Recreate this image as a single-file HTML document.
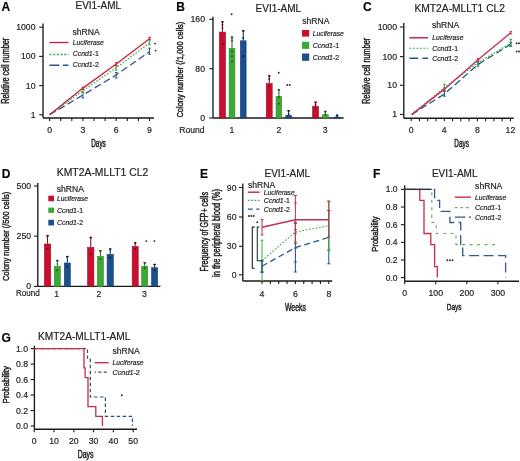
<!DOCTYPE html>
<html><head><meta charset="utf-8"><style>
html,body{margin:0;padding:0;background:#fff;}
body{width:520px;height:461px;overflow:hidden;}
svg{display:block;will-change:transform;filter:blur(0.3px);}
.at{stroke:#222;stroke-width:0.35px;}
text{stroke:#222;stroke-width:0.18px;}
text.at{stroke-width:0.45px;}
svg{font-family:"Liberation Sans",sans-serif;}
</style></head><body>
<svg width="520" height="461" viewBox="0 0 520 461" fill="#222">
<rect width="520" height="461" fill="#fff"/>
<text x="1.4" y="10.8" font-size="12" font-weight="bold" fill="#000">A</text>
<text x="75.5" y="9.4" font-size="10">EVI1-AML</text>
<line x1="43" y1="23.5" x2="43" y2="118" stroke="#1a1a1a" stroke-width="1.35" stroke-linecap="butt"/>
<line x1="39.2" y1="27.2" x2="43" y2="27.2" stroke="#1a1a1a" stroke-width="1.1" stroke-linecap="butt"/>
<text x="35.5" y="30.25" font-size="8.7" text-anchor="end">1000</text>
<line x1="39.2" y1="56.4" x2="43" y2="56.4" stroke="#1a1a1a" stroke-width="1.1" stroke-linecap="butt"/>
<text x="35.5" y="59.449999999999996" font-size="8.7" text-anchor="end">100</text>
<line x1="39.2" y1="85.6" x2="43" y2="85.6" stroke="#1a1a1a" stroke-width="1.1" stroke-linecap="butt"/>
<text x="35.5" y="88.64999999999999" font-size="8.7" text-anchor="end">10</text>
<line x1="39.2" y1="114.8" x2="43" y2="114.8" stroke="#1a1a1a" stroke-width="1.1" stroke-linecap="butt"/>
<text x="35.5" y="117.85" font-size="8.7" text-anchor="end">1</text>
<line x1="43" y1="118" x2="154" y2="118" stroke="#1a1a1a" stroke-width="1.4" stroke-linecap="butt"/>
<line x1="49.6" y1="118" x2="49.6" y2="121.0" stroke="#1a1a1a" stroke-width="1.1" stroke-linecap="butt"/>
<line x1="60.7" y1="118" x2="60.7" y2="121.0" stroke="#1a1a1a" stroke-width="1.1" stroke-linecap="butt"/>
<line x1="71.8" y1="118" x2="71.8" y2="121.0" stroke="#1a1a1a" stroke-width="1.1" stroke-linecap="butt"/>
<line x1="82.9" y1="118" x2="82.9" y2="121.0" stroke="#1a1a1a" stroke-width="1.1" stroke-linecap="butt"/>
<line x1="94.0" y1="118" x2="94.0" y2="121.0" stroke="#1a1a1a" stroke-width="1.1" stroke-linecap="butt"/>
<line x1="105.1" y1="118" x2="105.1" y2="121.0" stroke="#1a1a1a" stroke-width="1.1" stroke-linecap="butt"/>
<line x1="116.19999999999999" y1="118" x2="116.19999999999999" y2="121.0" stroke="#1a1a1a" stroke-width="1.1" stroke-linecap="butt"/>
<line x1="127.30000000000001" y1="118" x2="127.30000000000001" y2="121.0" stroke="#1a1a1a" stroke-width="1.1" stroke-linecap="butt"/>
<line x1="138.4" y1="118" x2="138.4" y2="121.0" stroke="#1a1a1a" stroke-width="1.1" stroke-linecap="butt"/>
<line x1="149.5" y1="118" x2="149.5" y2="121.0" stroke="#1a1a1a" stroke-width="1.1" stroke-linecap="butt"/>
<text x="49.6" y="133.2" font-size="8.7" text-anchor="middle">0</text>
<text x="82.9" y="133.2" font-size="8.7" text-anchor="middle">3</text>
<text x="116.19999999999999" y="133.2" font-size="8.7" text-anchor="middle">6</text>
<text x="149.5" y="133.2" font-size="8.7" text-anchor="middle">9</text>
<text x="91.2" y="147.3" font-size="10" class="at" textLength="14.6" lengthAdjust="spacingAndGlyphs">Days</text>
<text transform="translate(9.1,70.75) rotate(-90)" font-size="10" class="at" text-anchor="middle" textLength="65.9" lengthAdjust="spacingAndGlyphs">Relative cell number</text>
<polyline points="49.60,114.80 82.90,95.00 116.20,75.00 149.50,51.70" fill="none" stroke="#2f5588" stroke-width="1.3" stroke-dasharray="7,3.5" stroke-linejoin="miter"/>
<polyline points="49.60,114.80 82.90,90.70 116.20,67.80 149.50,43.00" fill="none" stroke="#4fa84a" stroke-width="1.3" stroke-dasharray="1.6,1.6" stroke-linejoin="miter"/>
<polyline points="49.60,114.80 82.90,88.10 116.20,64.10 149.50,38.70" fill="none" stroke="#c81e40" stroke-width="1.3" stroke-linejoin="miter"/>
<line x1="82.9" y1="92.4" x2="82.9" y2="98" stroke="#2f5588" stroke-width="1.0" stroke-linecap="butt"/>
<line x1="81.60000000000001" y1="92.4" x2="84.2" y2="92.4" stroke="#2f5588" stroke-width="1.0" stroke-linecap="butt"/>
<line x1="81.60000000000001" y1="98" x2="84.2" y2="98" stroke="#2f5588" stroke-width="1.0" stroke-linecap="butt"/>
<line x1="116.19999999999999" y1="72.5" x2="116.19999999999999" y2="78" stroke="#2f5588" stroke-width="1.0" stroke-linecap="butt"/>
<line x1="114.89999999999999" y1="72.5" x2="117.49999999999999" y2="72.5" stroke="#2f5588" stroke-width="1.0" stroke-linecap="butt"/>
<line x1="114.89999999999999" y1="78" x2="117.49999999999999" y2="78" stroke="#2f5588" stroke-width="1.0" stroke-linecap="butt"/>
<line x1="149.5" y1="48.2" x2="149.5" y2="54.3" stroke="#2f5588" stroke-width="1.0" stroke-linecap="butt"/>
<line x1="148.2" y1="48.2" x2="150.8" y2="48.2" stroke="#2f5588" stroke-width="1.0" stroke-linecap="butt"/>
<line x1="148.2" y1="54.3" x2="150.8" y2="54.3" stroke="#2f5588" stroke-width="1.0" stroke-linecap="butt"/>
<line x1="82.9" y1="88.4" x2="82.9" y2="92.7" stroke="#4fa84a" stroke-width="1.0" stroke-linecap="butt"/>
<line x1="81.60000000000001" y1="88.4" x2="84.2" y2="88.4" stroke="#4fa84a" stroke-width="1.0" stroke-linecap="butt"/>
<line x1="81.60000000000001" y1="92.7" x2="84.2" y2="92.7" stroke="#4fa84a" stroke-width="1.0" stroke-linecap="butt"/>
<line x1="116.19999999999999" y1="65.9" x2="116.19999999999999" y2="70.2" stroke="#4fa84a" stroke-width="1.0" stroke-linecap="butt"/>
<line x1="114.89999999999999" y1="65.9" x2="117.49999999999999" y2="65.9" stroke="#4fa84a" stroke-width="1.0" stroke-linecap="butt"/>
<line x1="114.89999999999999" y1="70.2" x2="117.49999999999999" y2="70.2" stroke="#4fa84a" stroke-width="1.0" stroke-linecap="butt"/>
<line x1="149.5" y1="40.7" x2="149.5" y2="44.7" stroke="#4fa84a" stroke-width="1.0" stroke-linecap="butt"/>
<line x1="148.2" y1="40.7" x2="150.8" y2="40.7" stroke="#4fa84a" stroke-width="1.0" stroke-linecap="butt"/>
<line x1="148.2" y1="44.7" x2="150.8" y2="44.7" stroke="#4fa84a" stroke-width="1.0" stroke-linecap="butt"/>
<line x1="82.9" y1="87.2" x2="82.9" y2="89.5" stroke="#c81e40" stroke-width="1.0" stroke-linecap="butt"/>
<line x1="81.60000000000001" y1="87.2" x2="84.2" y2="87.2" stroke="#c81e40" stroke-width="1.0" stroke-linecap="butt"/>
<line x1="81.60000000000001" y1="89.5" x2="84.2" y2="89.5" stroke="#c81e40" stroke-width="1.0" stroke-linecap="butt"/>
<line x1="116.19999999999999" y1="62.6" x2="116.19999999999999" y2="65.5" stroke="#c81e40" stroke-width="1.0" stroke-linecap="butt"/>
<line x1="114.89999999999999" y1="62.6" x2="117.49999999999999" y2="62.6" stroke="#c81e40" stroke-width="1.0" stroke-linecap="butt"/>
<line x1="114.89999999999999" y1="65.5" x2="117.49999999999999" y2="65.5" stroke="#c81e40" stroke-width="1.0" stroke-linecap="butt"/>
<line x1="149.5" y1="37.3" x2="149.5" y2="39.5" stroke="#c81e40" stroke-width="1.0" stroke-linecap="butt"/>
<line x1="148.2" y1="37.3" x2="150.8" y2="37.3" stroke="#c81e40" stroke-width="1.0" stroke-linecap="butt"/>
<line x1="148.2" y1="39.5" x2="150.8" y2="39.5" stroke="#c81e40" stroke-width="1.0" stroke-linecap="butt"/>
<circle cx="155.10" cy="43.6" r="0.95" fill="#2a2a2a"/>
<circle cx="155.60" cy="50.6" r="0.95" fill="#2a2a2a"/>
<text x="72.5" y="35" font-size="8.6">shRNA</text>
<line x1="49.4" y1="42.5" x2="68.5" y2="42.5" stroke="#c81e40" stroke-width="1.3" stroke-linecap="butt"/>
<line x1="49.4" y1="54.4" x2="68.5" y2="54.4" stroke="#4fa84a" stroke-width="1.5" stroke-dasharray="2.2,1.5" stroke-linecap="butt"/>
<line x1="49.4" y1="65.25" x2="68.5" y2="65.25" stroke="#2f5588" stroke-width="1.3" stroke-dasharray="10,3.5" stroke-linecap="butt"/>
<text x="72.75" y="44.75" font-size="6.8" font-style="italic" textLength="31" lengthAdjust="spacingAndGlyphs">Luciferase</text>
<text x="72.75" y="56.25" font-size="6.9" textLength="26" lengthAdjust="spacingAndGlyphs"><tspan font-style="italic">Ccnd1</tspan>-1</text>
<text x="72.75" y="67.25" font-size="6.9" textLength="26" lengthAdjust="spacingAndGlyphs"><tspan font-style="italic">Ccnd1</tspan>-2</text>
<text x="176.2" y="10.8" font-size="12" font-weight="bold" fill="#000">B</text>
<text x="255.6" y="11.9" font-size="10">EVI1-AML</text>
<line x1="213" y1="16.7" x2="213" y2="118" stroke="#1a1a1a" stroke-width="1.35" stroke-linecap="butt"/>
<line x1="209.2" y1="19.3" x2="213" y2="19.3" stroke="#1a1a1a" stroke-width="1.1" stroke-linecap="butt"/>
<text x="205" y="22.35" font-size="8.7" text-anchor="end">160</text>
<line x1="209.2" y1="68.65" x2="213" y2="68.65" stroke="#1a1a1a" stroke-width="1.1" stroke-linecap="butt"/>
<text x="205" y="71.7" font-size="8.7" text-anchor="end">80</text>
<line x1="209.2" y1="118" x2="213" y2="118" stroke="#1a1a1a" stroke-width="1.1" stroke-linecap="butt"/>
<text x="205" y="121.05" font-size="8.7" text-anchor="end">0</text>
<line x1="213" y1="118" x2="343.6" y2="118" stroke="#1a1a1a" stroke-width="1.3" stroke-linecap="butt"/>
<line x1="222.45" y1="21.75" x2="222.45" y2="31.75" stroke="#5a0a14" stroke-width="1.0" stroke-linecap="butt"/>
<line x1="221.14999999999998" y1="21.75" x2="223.75" y2="21.75" stroke="#5a0a14" stroke-width="1.1" stroke-linecap="butt"/>
<rect x="219.4" y="32.05" width="6.10" height="85.95" fill="#c8102e" stroke="#a00a26" stroke-width="0.6"/>
<circle cx="222.45" cy="22" r="0.95" fill="#5a0a14"/>
<circle cx="222.45" cy="25" r="0.95" fill="#5a0a14"/>
<circle cx="222.45" cy="28" r="0.95" fill="#5a0a14"/>
<circle cx="222.45" cy="44" r="0.95" fill="#5a0a14"/>
<line x1="232.0" y1="37" x2="232.0" y2="48" stroke="#145a14" stroke-width="1.0" stroke-linecap="butt"/>
<line x1="230.7" y1="37" x2="233.3" y2="37" stroke="#145a14" stroke-width="1.1" stroke-linecap="butt"/>
<rect x="229.10000000000002" y="48.3" width="5.80" height="69.70" fill="#3aaa35" stroke="#2b8a2b" stroke-width="0.6"/>
<circle cx="232.00" cy="37.8" r="0.95" fill="#145a14"/>
<circle cx="232.00" cy="40.5" r="0.95" fill="#145a14"/>
<circle cx="232.00" cy="51.4" r="0.95" fill="#145a14"/>
<circle cx="232.00" cy="56.2" r="0.95" fill="#145a14"/>
<circle cx="232.00" cy="61.4" r="0.95" fill="#145a14"/>
<line x1="243.25" y1="30.75" x2="243.25" y2="40.5" stroke="#0a2040" stroke-width="1.0" stroke-linecap="butt"/>
<line x1="241.95" y1="30.75" x2="244.55" y2="30.75" stroke="#0a2040" stroke-width="1.1" stroke-linecap="butt"/>
<rect x="240.4" y="40.8" width="5.70" height="77.20" fill="#1b4f8e" stroke="#0e3a70" stroke-width="0.6"/>
<circle cx="243.25" cy="31" r="0.95" fill="#0a2040"/>
<circle cx="243.25" cy="38" r="0.95" fill="#0a2040"/>
<circle cx="243.25" cy="56.2" r="0.95" fill="#0a2040"/>
<line x1="269.25" y1="75.75" x2="269.25" y2="83.25" stroke="#5a0a14" stroke-width="1.0" stroke-linecap="butt"/>
<line x1="267.95" y1="75.75" x2="270.55" y2="75.75" stroke="#5a0a14" stroke-width="1.1" stroke-linecap="butt"/>
<rect x="266.3" y="83.55" width="5.90" height="34.45" fill="#c8102e" stroke="#a00a26" stroke-width="0.6"/>
<circle cx="269.25" cy="76" r="0.95" fill="#5a0a14"/>
<circle cx="269.25" cy="79" r="0.95" fill="#5a0a14"/>
<circle cx="269.25" cy="86.5" r="0.95" fill="#5a0a14"/>
<line x1="278.875" y1="89.5" x2="278.875" y2="96.25" stroke="#145a14" stroke-width="1.0" stroke-linecap="butt"/>
<line x1="277.575" y1="89.5" x2="280.175" y2="89.5" stroke="#145a14" stroke-width="1.1" stroke-linecap="butt"/>
<rect x="276.05" y="96.55" width="5.65" height="21.45" fill="#3aaa35" stroke="#2b8a2b" stroke-width="0.6"/>
<circle cx="278.88" cy="90" r="0.95" fill="#145a14"/>
<circle cx="278.88" cy="97" r="0.95" fill="#145a14"/>
<circle cx="278.88" cy="103.8" r="0.95" fill="#145a14"/>
<line x1="288.625" y1="110.75" x2="288.625" y2="115" stroke="#0a2040" stroke-width="1.0" stroke-linecap="butt"/>
<line x1="287.325" y1="110.75" x2="289.925" y2="110.75" stroke="#0a2040" stroke-width="1.1" stroke-linecap="butt"/>
<rect x="285.8" y="115.3" width="5.65" height="2.70" fill="#1b4f8e" stroke="#0e3a70" stroke-width="0.6"/>
<circle cx="288.62" cy="111" r="0.95" fill="#0a2040"/>
<circle cx="288.62" cy="114.5" r="0.95" fill="#0a2040"/>
<line x1="315.55" y1="102.1" x2="315.55" y2="106.1" stroke="#5a0a14" stroke-width="1.0" stroke-linecap="butt"/>
<line x1="314.25" y1="102.1" x2="316.85" y2="102.1" stroke="#5a0a14" stroke-width="1.1" stroke-linecap="butt"/>
<rect x="312.6" y="106.39999999999999" width="5.90" height="11.60" fill="#c8102e" stroke="#a00a26" stroke-width="0.6"/>
<circle cx="315.55" cy="102.5" r="0.95" fill="#5a0a14"/>
<circle cx="315.55" cy="105" r="0.95" fill="#5a0a14"/>
<circle cx="315.55" cy="108.5" r="0.95" fill="#5a0a14"/>
<line x1="325.35" y1="111.3" x2="325.35" y2="114.5" stroke="#145a14" stroke-width="1.0" stroke-linecap="butt"/>
<line x1="324.05" y1="111.3" x2="326.65000000000003" y2="111.3" stroke="#145a14" stroke-width="1.1" stroke-linecap="butt"/>
<rect x="322.40000000000003" y="114.8" width="5.90" height="3.20" fill="#3aaa35" stroke="#2b8a2b" stroke-width="0.6"/>
<circle cx="325.35" cy="111.8" r="0.95" fill="#145a14"/>
<circle cx="325.35" cy="114.5" r="0.95" fill="#145a14"/>
<line x1="337.15" y1="115" x2="337.15" y2="116.8" stroke="#0a2040" stroke-width="1.0" stroke-linecap="butt"/>
<line x1="335.84999999999997" y1="115" x2="338.45" y2="115" stroke="#0a2040" stroke-width="1.1" stroke-linecap="butt"/>
<rect x="334.3" y="117.1" width="5.70" height="0.90" fill="#1b4f8e" stroke="#0e3a70" stroke-width="0.6"/>
<circle cx="337.15" cy="116" r="0.95" fill="#0a2040"/>
<circle cx="231.60" cy="14.2" r="0.95" fill="#2a2a2a"/>
<circle cx="278.70" cy="72.8" r="0.95" fill="#2a2a2a"/>
<circle cx="287.25" cy="85" r="0.95" fill="#2a2a2a"/>
<circle cx="289.75" cy="85" r="0.95" fill="#2a2a2a"/>
<text x="204.6" y="132.9" font-size="8.6" text-anchor="end">Round</text>
<text x="231.8" y="132.9" font-size="8.7" text-anchor="middle">1</text>
<text x="279" y="132.9" font-size="8.7" text-anchor="middle">2</text>
<text x="325.2" y="132.9" font-size="8.7" text-anchor="middle">3</text>
<text transform="translate(183.2,69.65) rotate(-90)" font-size="9.6" class="at" text-anchor="middle" textLength="95.9" lengthAdjust="spacingAndGlyphs">Colony number (/1,000 cells)</text>
<text x="302.3" y="23.8" font-size="8.6">shRNA</text>
<rect x="302" y="30" width="7.20" height="6.60" fill="#c8102e"/>
<rect x="302" y="41.8" width="7.20" height="7.10" fill="#3aaa35"/>
<rect x="302" y="53.5" width="7.20" height="7.30" fill="#1b4f8e"/>
<text x="312.8" y="36.2" font-size="6.8" font-style="italic" textLength="31" lengthAdjust="spacingAndGlyphs">Luciferase</text>
<text x="312.8" y="48" font-size="6.9" textLength="26.4" lengthAdjust="spacingAndGlyphs"><tspan font-style="italic">Ccnd1</tspan>-1</text>
<text x="312.8" y="59.9" font-size="6.9" textLength="26.4" lengthAdjust="spacingAndGlyphs"><tspan font-style="italic">Ccnd1</tspan>-2</text>
<text x="363.1" y="10.8" font-size="12" font-weight="bold" fill="#000">C</text>
<text x="414.4" y="11.9" font-size="10" textLength="90.6" lengthAdjust="spacingAndGlyphs">KMT2A-MLLT1 CL2</text>
<line x1="403.8" y1="23" x2="403.8" y2="118.3" stroke="#1a1a1a" stroke-width="1.35" stroke-linecap="butt"/>
<line x1="400.0" y1="27" x2="403.8" y2="27" stroke="#1a1a1a" stroke-width="1.1" stroke-linecap="butt"/>
<text x="397" y="30.05" font-size="8.7" text-anchor="end">1000</text>
<line x1="400.0" y1="56.6" x2="403.8" y2="56.6" stroke="#1a1a1a" stroke-width="1.1" stroke-linecap="butt"/>
<text x="397" y="59.65" font-size="8.7" text-anchor="end">100</text>
<line x1="400.0" y1="85.3" x2="403.8" y2="85.3" stroke="#1a1a1a" stroke-width="1.1" stroke-linecap="butt"/>
<text x="397" y="88.35" font-size="8.7" text-anchor="end">10</text>
<line x1="400.0" y1="114.4" x2="403.8" y2="114.4" stroke="#1a1a1a" stroke-width="1.1" stroke-linecap="butt"/>
<text x="397" y="117.45" font-size="8.7" text-anchor="end">1</text>
<line x1="403.8" y1="118.3" x2="513.7" y2="118.3" stroke="#1a1a1a" stroke-width="1.4" stroke-linecap="butt"/>
<line x1="411.2" y1="118.3" x2="411.2" y2="121.3" stroke="#1a1a1a" stroke-width="1.1" stroke-linecap="butt"/>
<line x1="419.46999999999997" y1="118.3" x2="419.46999999999997" y2="121.3" stroke="#1a1a1a" stroke-width="1.1" stroke-linecap="butt"/>
<line x1="427.74" y1="118.3" x2="427.74" y2="121.3" stroke="#1a1a1a" stroke-width="1.1" stroke-linecap="butt"/>
<line x1="436.01" y1="118.3" x2="436.01" y2="121.3" stroke="#1a1a1a" stroke-width="1.1" stroke-linecap="butt"/>
<line x1="444.28" y1="118.3" x2="444.28" y2="121.3" stroke="#1a1a1a" stroke-width="1.1" stroke-linecap="butt"/>
<line x1="452.54999999999995" y1="118.3" x2="452.54999999999995" y2="121.3" stroke="#1a1a1a" stroke-width="1.1" stroke-linecap="butt"/>
<line x1="460.82" y1="118.3" x2="460.82" y2="121.3" stroke="#1a1a1a" stroke-width="1.1" stroke-linecap="butt"/>
<line x1="469.09" y1="118.3" x2="469.09" y2="121.3" stroke="#1a1a1a" stroke-width="1.1" stroke-linecap="butt"/>
<line x1="477.36" y1="118.3" x2="477.36" y2="121.3" stroke="#1a1a1a" stroke-width="1.1" stroke-linecap="butt"/>
<line x1="485.63" y1="118.3" x2="485.63" y2="121.3" stroke="#1a1a1a" stroke-width="1.1" stroke-linecap="butt"/>
<line x1="493.9" y1="118.3" x2="493.9" y2="121.3" stroke="#1a1a1a" stroke-width="1.1" stroke-linecap="butt"/>
<line x1="502.16999999999996" y1="118.3" x2="502.16999999999996" y2="121.3" stroke="#1a1a1a" stroke-width="1.1" stroke-linecap="butt"/>
<line x1="510.44" y1="118.3" x2="510.44" y2="121.3" stroke="#1a1a1a" stroke-width="1.1" stroke-linecap="butt"/>
<text x="411.2" y="132.6" font-size="8.7" text-anchor="middle">0</text>
<text x="444.28" y="132.6" font-size="8.7" text-anchor="middle">4</text>
<text x="477.36" y="132.6" font-size="8.7" text-anchor="middle">8</text>
<text x="510.44" y="132.6" font-size="8.7" text-anchor="middle">12</text>
<text x="454.3" y="146.8" font-size="10" class="at" textLength="14.7" lengthAdjust="spacingAndGlyphs">Days</text>
<text transform="translate(370.1,70.85) rotate(-90)" font-size="10" class="at" text-anchor="middle" textLength="66.1" lengthAdjust="spacingAndGlyphs">Relative cell number</text>
<polyline points="411.60,114.60 444.40,94.00 478.00,64.50 510.80,44.30" fill="none" stroke="#1f5a78" stroke-width="1.3" stroke-dasharray="7,3.5" stroke-linejoin="miter"/>
<polyline points="411.60,114.60 444.40,87.60 478.00,62.60 510.80,43.20" fill="none" stroke="#4fa84a" stroke-width="1.2" stroke-dasharray="1.8,1.4" stroke-linejoin="miter"/>
<polyline points="411.60,114.60 444.40,89.20 478.00,59.70 510.80,32.70" fill="none" stroke="#c4325a" stroke-width="1.5" stroke-linejoin="miter"/>
<line x1="444.4" y1="91.4" x2="444.4" y2="96.2" stroke="#1f5a78" stroke-width="1.0" stroke-linecap="butt"/>
<line x1="443.09999999999997" y1="91.4" x2="445.7" y2="91.4" stroke="#1f5a78" stroke-width="1.0" stroke-linecap="butt"/>
<line x1="443.09999999999997" y1="96.2" x2="445.7" y2="96.2" stroke="#1f5a78" stroke-width="1.0" stroke-linecap="butt"/>
<line x1="478" y1="62.8" x2="478" y2="66.2" stroke="#1f5a78" stroke-width="1.0" stroke-linecap="butt"/>
<line x1="476.7" y1="62.8" x2="479.3" y2="62.8" stroke="#1f5a78" stroke-width="1.0" stroke-linecap="butt"/>
<line x1="476.7" y1="66.2" x2="479.3" y2="66.2" stroke="#1f5a78" stroke-width="1.0" stroke-linecap="butt"/>
<line x1="510.8" y1="42.5" x2="510.8" y2="46.2" stroke="#1f5a78" stroke-width="1.0" stroke-linecap="butt"/>
<line x1="509.5" y1="42.5" x2="512.1" y2="42.5" stroke="#1f5a78" stroke-width="1.0" stroke-linecap="butt"/>
<line x1="509.5" y1="46.2" x2="512.1" y2="46.2" stroke="#1f5a78" stroke-width="1.0" stroke-linecap="butt"/>
<line x1="444.4" y1="84.3" x2="444.4" y2="90.9" stroke="#2a9a3a" stroke-width="1.0" stroke-linecap="butt"/>
<line x1="443.09999999999997" y1="84.3" x2="445.7" y2="84.3" stroke="#2a9a3a" stroke-width="1.0" stroke-linecap="butt"/>
<line x1="443.09999999999997" y1="90.9" x2="445.7" y2="90.9" stroke="#2a9a3a" stroke-width="1.0" stroke-linecap="butt"/>
<line x1="478" y1="61" x2="478" y2="64.5" stroke="#2a9a3a" stroke-width="1.0" stroke-linecap="butt"/>
<line x1="476.7" y1="61" x2="479.3" y2="61" stroke="#2a9a3a" stroke-width="1.0" stroke-linecap="butt"/>
<line x1="476.7" y1="64.5" x2="479.3" y2="64.5" stroke="#2a9a3a" stroke-width="1.0" stroke-linecap="butt"/>
<line x1="510.8" y1="39.2" x2="510.8" y2="46.5" stroke="#2a9a3a" stroke-width="1.0" stroke-linecap="butt"/>
<line x1="509.5" y1="39.2" x2="512.1" y2="39.2" stroke="#2a9a3a" stroke-width="1.0" stroke-linecap="butt"/>
<line x1="509.5" y1="46.5" x2="512.1" y2="46.5" stroke="#2a9a3a" stroke-width="1.0" stroke-linecap="butt"/>
<line x1="444.4" y1="88.2" x2="444.4" y2="90.2" stroke="#c4325a" stroke-width="1.0" stroke-linecap="butt"/>
<line x1="443.09999999999997" y1="88.2" x2="445.7" y2="88.2" stroke="#c4325a" stroke-width="1.0" stroke-linecap="butt"/>
<line x1="443.09999999999997" y1="90.2" x2="445.7" y2="90.2" stroke="#c4325a" stroke-width="1.0" stroke-linecap="butt"/>
<line x1="478" y1="58.6" x2="478" y2="60.8" stroke="#c4325a" stroke-width="1.0" stroke-linecap="butt"/>
<line x1="476.7" y1="58.6" x2="479.3" y2="58.6" stroke="#c4325a" stroke-width="1.0" stroke-linecap="butt"/>
<line x1="476.7" y1="60.8" x2="479.3" y2="60.8" stroke="#c4325a" stroke-width="1.0" stroke-linecap="butt"/>
<line x1="510.8" y1="31.6" x2="510.8" y2="33.8" stroke="#c4325a" stroke-width="1.0" stroke-linecap="butt"/>
<line x1="509.5" y1="31.6" x2="512.1" y2="31.6" stroke="#c4325a" stroke-width="1.0" stroke-linecap="butt"/>
<line x1="509.5" y1="33.8" x2="512.1" y2="33.8" stroke="#c4325a" stroke-width="1.0" stroke-linecap="butt"/>
<circle cx="516.60" cy="43.3" r="0.95" fill="#2a2a2a"/>
<circle cx="519.00" cy="43.3" r="0.95" fill="#2a2a2a"/>
<circle cx="516.60" cy="51.5" r="0.95" fill="#2a2a2a"/>
<circle cx="519.00" cy="51.5" r="0.95" fill="#2a2a2a"/>
<text x="431.9" y="28.25" font-size="8.6">shRNA</text>
<line x1="409.4" y1="37.75" x2="428.1" y2="37.75" stroke="#c4325a" stroke-width="1.6" stroke-linecap="butt"/>
<line x1="409.4" y1="48.25" x2="428.1" y2="48.25" stroke="#4fa84a" stroke-width="1.1" stroke-dasharray="2,1.5" stroke-linecap="butt"/>
<line x1="409.4" y1="58.25" x2="428.1" y2="58.25" stroke="#1f5a78" stroke-width="1.3" stroke-dasharray="8.7,4.4" stroke-linecap="butt"/>
<text x="432.25" y="40.25" font-size="6.8" font-style="italic" textLength="31.2" lengthAdjust="spacingAndGlyphs">Luciferase</text>
<text x="432.25" y="50.75" font-size="6.9" textLength="25.9" lengthAdjust="spacingAndGlyphs"><tspan font-style="italic">Ccnd1</tspan>-1</text>
<text x="432.25" y="61.1" font-size="6.9" textLength="25.9" lengthAdjust="spacingAndGlyphs"><tspan font-style="italic">Ccnd1</tspan>-2</text>
<text x="1.8" y="178.4" font-size="12" font-weight="bold" fill="#000">D</text>
<text x="56.8" y="176.4" font-size="10" textLength="91.5" lengthAdjust="spacingAndGlyphs">KMT2A-MLLT1 CL2</text>
<line x1="37.8" y1="183.1" x2="37.8" y2="286.4" stroke="#1a1a1a" stroke-width="1.35" stroke-linecap="butt"/>
<line x1="34.0" y1="186" x2="37.8" y2="186" stroke="#1a1a1a" stroke-width="1.1" stroke-linecap="butt"/>
<text x="31.1" y="189.05" font-size="8.7" text-anchor="end">500</text>
<line x1="34.0" y1="236.1" x2="37.8" y2="236.1" stroke="#1a1a1a" stroke-width="1.1" stroke-linecap="butt"/>
<text x="31.1" y="239.15" font-size="8.7" text-anchor="end">250</text>
<line x1="34.0" y1="286.4" x2="37.8" y2="286.4" stroke="#1a1a1a" stroke-width="1.1" stroke-linecap="butt"/>
<text x="31.1" y="289.45" font-size="8.7" text-anchor="end">0</text>
<line x1="37.8" y1="286.4" x2="160.4" y2="286.4" stroke="#1a1a1a" stroke-width="1.3" stroke-linecap="butt"/>
<line x1="47.55" y1="235.7" x2="47.55" y2="243.7" stroke="#5a0a14" stroke-width="1.0" stroke-linecap="butt"/>
<line x1="46.25" y1="235.7" x2="48.849999999999994" y2="235.7" stroke="#5a0a14" stroke-width="1.1" stroke-linecap="butt"/>
<rect x="44.4" y="244.0" width="6.30" height="42.40" fill="#c8102e" stroke="#a00a26" stroke-width="0.6"/>
<circle cx="47.55" cy="236" r="0.95" fill="#5a0a14"/>
<circle cx="47.55" cy="248.8" r="0.95" fill="#5a0a14"/>
<line x1="57.3" y1="260.5" x2="57.3" y2="266" stroke="#145a14" stroke-width="1.0" stroke-linecap="butt"/>
<line x1="56.0" y1="260.5" x2="58.599999999999994" y2="260.5" stroke="#145a14" stroke-width="1.1" stroke-linecap="butt"/>
<rect x="54.3" y="266.3" width="6.00" height="20.10" fill="#3aaa35" stroke="#2b8a2b" stroke-width="0.6"/>
<circle cx="57.30" cy="260.8" r="0.95" fill="#145a14"/>
<circle cx="57.30" cy="270.3" r="0.95" fill="#145a14"/>
<line x1="67.3" y1="256.5" x2="67.3" y2="262.7" stroke="#0a2040" stroke-width="1.0" stroke-linecap="butt"/>
<line x1="66.0" y1="256.5" x2="68.6" y2="256.5" stroke="#0a2040" stroke-width="1.1" stroke-linecap="butt"/>
<rect x="64.3" y="263.0" width="6.00" height="23.40" fill="#1b4f8e" stroke="#0e3a70" stroke-width="0.6"/>
<circle cx="67.30" cy="256.8" r="0.95" fill="#0a2040"/>
<circle cx="67.30" cy="266.6" r="0.95" fill="#0a2040"/>
<line x1="90.75" y1="237.5" x2="90.75" y2="247.1" stroke="#5a0a14" stroke-width="1.0" stroke-linecap="butt"/>
<line x1="89.45" y1="237.5" x2="92.05" y2="237.5" stroke="#5a0a14" stroke-width="1.1" stroke-linecap="butt"/>
<rect x="87.6" y="247.4" width="6.30" height="39.00" fill="#c8102e" stroke="#a00a26" stroke-width="0.6"/>
<circle cx="90.75" cy="237.5" r="0.95" fill="#5a0a14"/>
<circle cx="90.75" cy="254.3" r="0.95" fill="#5a0a14"/>
<line x1="100.35" y1="250.6" x2="100.35" y2="256.1" stroke="#145a14" stroke-width="1.0" stroke-linecap="butt"/>
<line x1="99.05" y1="250.6" x2="101.64999999999999" y2="250.6" stroke="#145a14" stroke-width="1.1" stroke-linecap="butt"/>
<rect x="97.3" y="256.40000000000003" width="6.10" height="30.00" fill="#3aaa35" stroke="#2b8a2b" stroke-width="0.6"/>
<circle cx="100.35" cy="251" r="0.95" fill="#145a14"/>
<circle cx="100.35" cy="258.9" r="0.95" fill="#145a14"/>
<line x1="110.19999999999999" y1="248.9" x2="110.19999999999999" y2="254.1" stroke="#0a2040" stroke-width="1.0" stroke-linecap="butt"/>
<line x1="108.89999999999999" y1="248.9" x2="111.49999999999999" y2="248.9" stroke="#0a2040" stroke-width="1.1" stroke-linecap="butt"/>
<rect x="107.1" y="254.4" width="6.20" height="32.00" fill="#1b4f8e" stroke="#0e3a70" stroke-width="0.6"/>
<circle cx="110.20" cy="249.5" r="0.95" fill="#0a2040"/>
<circle cx="110.20" cy="257.7" r="0.95" fill="#0a2040"/>
<line x1="135.2" y1="242.8" x2="135.2" y2="246.1" stroke="#5a0a14" stroke-width="1.0" stroke-linecap="butt"/>
<line x1="133.89999999999998" y1="242.8" x2="136.5" y2="242.8" stroke="#5a0a14" stroke-width="1.1" stroke-linecap="butt"/>
<rect x="132.20000000000002" y="246.4" width="6.00" height="40.00" fill="#c8102e" stroke="#a00a26" stroke-width="0.6"/>
<circle cx="135.20" cy="243" r="0.95" fill="#5a0a14"/>
<circle cx="135.20" cy="249" r="0.95" fill="#5a0a14"/>
<line x1="144.7" y1="262.7" x2="144.7" y2="266" stroke="#145a14" stroke-width="1.0" stroke-linecap="butt"/>
<line x1="143.39999999999998" y1="262.7" x2="146.0" y2="262.7" stroke="#145a14" stroke-width="1.1" stroke-linecap="butt"/>
<rect x="141.70000000000002" y="266.3" width="6.00" height="20.10" fill="#3aaa35" stroke="#2b8a2b" stroke-width="0.6"/>
<circle cx="144.70" cy="263" r="0.95" fill="#145a14"/>
<circle cx="144.70" cy="268" r="0.95" fill="#145a14"/>
<line x1="154.60000000000002" y1="264.4" x2="154.60000000000002" y2="267.4" stroke="#0a2040" stroke-width="1.0" stroke-linecap="butt"/>
<line x1="153.3" y1="264.4" x2="155.90000000000003" y2="264.4" stroke="#0a2040" stroke-width="1.1" stroke-linecap="butt"/>
<rect x="151.60000000000002" y="267.7" width="6.00" height="18.70" fill="#1b4f8e" stroke="#0e3a70" stroke-width="0.6"/>
<circle cx="154.60" cy="264.7" r="0.95" fill="#0a2040"/>
<circle cx="154.60" cy="270" r="0.95" fill="#0a2040"/>
<circle cx="146.30" cy="241.1" r="0.95" fill="#2a2a2a"/>
<circle cx="154.40" cy="241.1" r="0.95" fill="#2a2a2a"/>
<text x="39.8" y="296.3" font-size="9" text-anchor="end" textLength="23.9" lengthAdjust="spacingAndGlyphs">Round</text>
<text x="56.7" y="296.5" font-size="8.7" text-anchor="middle">1</text>
<text x="99" y="296.5" font-size="8.7" text-anchor="middle">2</text>
<text x="144.4" y="296.5" font-size="8.7" text-anchor="middle">3</text>
<text transform="translate(9.1,236.4) rotate(-90)" font-size="9.8" class="at" text-anchor="middle" textLength="89.4" lengthAdjust="spacingAndGlyphs">Colony number (/500 cells)</text>
<text x="56.8" y="191.6" font-size="8.6">shRNA</text>
<rect x="48.3" y="195.7" width="5.70" height="5.50" fill="#c8102e"/>
<rect x="48.3" y="207.6" width="5.70" height="5.30" fill="#3aaa35"/>
<rect x="48.3" y="219.8" width="5.70" height="5.70" fill="#1b4f8e"/>
<text x="57" y="201" font-size="6.8" font-style="italic" textLength="31" lengthAdjust="spacingAndGlyphs">Luciferase</text>
<text x="57" y="213" font-size="6.9" textLength="26" lengthAdjust="spacingAndGlyphs"><tspan font-style="italic">Ccnd1</tspan>-1</text>
<text x="57" y="225.3" font-size="6.9" textLength="26" lengthAdjust="spacingAndGlyphs"><tspan font-style="italic">Ccnd1</tspan>-2</text>
<text x="200" y="178" font-size="12" font-weight="bold" fill="#000">E</text>
<text x="264.5" y="177" font-size="10">EVI1-AML</text>
<line x1="242.8" y1="183.5" x2="242.8" y2="281" stroke="#1a1a1a" stroke-width="1.35" stroke-linecap="butt"/>
<line x1="239.0" y1="187.5" x2="242.8" y2="187.5" stroke="#1a1a1a" stroke-width="1.1" stroke-linecap="butt"/>
<text x="236.5" y="190.55" font-size="8.7" text-anchor="end">90</text>
<line x1="239.0" y1="217" x2="242.8" y2="217" stroke="#1a1a1a" stroke-width="1.1" stroke-linecap="butt"/>
<text x="236.5" y="220.05" font-size="8.7" text-anchor="end">60</text>
<line x1="239.0" y1="246.3" x2="242.8" y2="246.3" stroke="#1a1a1a" stroke-width="1.1" stroke-linecap="butt"/>
<text x="236.5" y="249.35000000000002" font-size="8.7" text-anchor="end">30</text>
<line x1="239.0" y1="274.8" x2="242.8" y2="274.8" stroke="#1a1a1a" stroke-width="1.1" stroke-linecap="butt"/>
<text x="236.5" y="277.85" font-size="8.7" text-anchor="end">0</text>
<line x1="242.8" y1="281" x2="332.2" y2="281" stroke="#1a1a1a" stroke-width="1.4" stroke-linecap="butt"/>
<line x1="262.0" y1="281" x2="262.0" y2="284.0" stroke="#1a1a1a" stroke-width="1.1" stroke-linecap="butt"/>
<line x1="270.35" y1="281" x2="270.35" y2="284.0" stroke="#1a1a1a" stroke-width="1.1" stroke-linecap="butt"/>
<line x1="278.7" y1="281" x2="278.7" y2="284.0" stroke="#1a1a1a" stroke-width="1.1" stroke-linecap="butt"/>
<line x1="287.05" y1="281" x2="287.05" y2="284.0" stroke="#1a1a1a" stroke-width="1.1" stroke-linecap="butt"/>
<line x1="295.4" y1="281" x2="295.4" y2="284.0" stroke="#1a1a1a" stroke-width="1.1" stroke-linecap="butt"/>
<line x1="303.75" y1="281" x2="303.75" y2="284.0" stroke="#1a1a1a" stroke-width="1.1" stroke-linecap="butt"/>
<line x1="312.1" y1="281" x2="312.1" y2="284.0" stroke="#1a1a1a" stroke-width="1.1" stroke-linecap="butt"/>
<line x1="320.45" y1="281" x2="320.45" y2="284.0" stroke="#1a1a1a" stroke-width="1.1" stroke-linecap="butt"/>
<line x1="328.8" y1="281" x2="328.8" y2="284.0" stroke="#1a1a1a" stroke-width="1.1" stroke-linecap="butt"/>
<text x="262.0" y="296.6" font-size="8.7" text-anchor="middle">4</text>
<text x="295.4" y="296.6" font-size="8.7" text-anchor="middle">6</text>
<text x="328.8" y="296.6" font-size="8.7" text-anchor="middle">8</text>
<text x="285" y="310.5" font-size="10" class="at" textLength="20.9" lengthAdjust="spacingAndGlyphs">Weeks</text>
<text transform="translate(207.7,231.7) rotate(-90)" font-size="10" class="at" text-anchor="middle" textLength="79.4" lengthAdjust="spacingAndGlyphs">Frequency of GFP+ cells</text>
<text transform="translate(219.5,233) rotate(-90)" font-size="10" class="at" text-anchor="middle" textLength="88" lengthAdjust="spacingAndGlyphs">in the peripheral blood (%)</text>
<line x1="262.0" y1="261" x2="262.0" y2="272" stroke="#1f4e7a" stroke-width="1.0" stroke-linecap="butt"/>
<line x1="260.5" y1="261" x2="263.5" y2="261" stroke="#1f4e7a" stroke-width="1.0" stroke-linecap="butt"/>
<line x1="260.5" y1="272" x2="263.5" y2="272" stroke="#1f4e7a" stroke-width="1.0" stroke-linecap="butt"/>
<line x1="295.4" y1="223.5" x2="295.4" y2="272" stroke="#1f4e7a" stroke-width="1.0" stroke-linecap="butt"/>
<line x1="293.9" y1="223.5" x2="296.9" y2="223.5" stroke="#1f4e7a" stroke-width="1.0" stroke-linecap="butt"/>
<line x1="293.9" y1="272" x2="296.9" y2="272" stroke="#1f4e7a" stroke-width="1.0" stroke-linecap="butt"/>
<line x1="328.8" y1="210.5" x2="328.8" y2="263.8" stroke="#1f4e7a" stroke-width="1.0" stroke-linecap="butt"/>
<line x1="327.3" y1="210.5" x2="330.3" y2="210.5" stroke="#1f4e7a" stroke-width="1.0" stroke-linecap="butt"/>
<line x1="327.3" y1="263.8" x2="330.3" y2="263.8" stroke="#1f4e7a" stroke-width="1.0" stroke-linecap="butt"/>
<line x1="262.0" y1="240.2" x2="262.0" y2="280.5" stroke="#3aaa35" stroke-width="1.0" stroke-linecap="butt"/>
<line x1="260.5" y1="240.2" x2="263.5" y2="240.2" stroke="#3aaa35" stroke-width="1.0" stroke-linecap="butt"/>
<line x1="260.5" y1="280.5" x2="263.5" y2="280.5" stroke="#3aaa35" stroke-width="1.0" stroke-linecap="butt"/>
<line x1="295.4" y1="222" x2="295.4" y2="242" stroke="#3aaa35" stroke-width="1.0" stroke-linecap="butt"/>
<line x1="293.9" y1="222" x2="296.9" y2="222" stroke="#3aaa35" stroke-width="1.0" stroke-linecap="butt"/>
<line x1="293.9" y1="242" x2="296.9" y2="242" stroke="#3aaa35" stroke-width="1.0" stroke-linecap="butt"/>
<line x1="328.8" y1="201" x2="328.8" y2="250.5" stroke="#3aaa35" stroke-width="1.0" stroke-linecap="butt"/>
<line x1="327.3" y1="201" x2="330.3" y2="201" stroke="#3aaa35" stroke-width="1.0" stroke-linecap="butt"/>
<line x1="327.3" y1="250.5" x2="330.3" y2="250.5" stroke="#3aaa35" stroke-width="1.0" stroke-linecap="butt"/>
<line x1="262.0" y1="260.3" x2="262.0" y2="272.3" stroke="#24506a" stroke-width="1.0" stroke-linecap="butt"/>
<line x1="260.5" y1="260.3" x2="263.5" y2="260.3" stroke="#24506a" stroke-width="1.0" stroke-linecap="butt"/>
<line x1="260.5" y1="272.3" x2="263.5" y2="272.3" stroke="#24506a" stroke-width="1.0" stroke-linecap="butt"/>
<line x1="262.0" y1="219.6" x2="262.0" y2="235" stroke="#c42e52" stroke-width="1.0" stroke-linecap="butt"/>
<line x1="260.5" y1="219.6" x2="263.5" y2="219.6" stroke="#c42e52" stroke-width="1.0" stroke-linecap="butt"/>
<line x1="260.5" y1="235" x2="263.5" y2="235" stroke="#c42e52" stroke-width="1.0" stroke-linecap="butt"/>
<line x1="295.4" y1="195.5" x2="295.4" y2="243.7" stroke="#c42e52" stroke-width="1.0" stroke-linecap="butt"/>
<line x1="293.9" y1="195.5" x2="296.9" y2="195.5" stroke="#c42e52" stroke-width="1.0" stroke-linecap="butt"/>
<line x1="293.9" y1="243.7" x2="296.9" y2="243.7" stroke="#c42e52" stroke-width="1.0" stroke-linecap="butt"/>
<line x1="328.8" y1="201.3" x2="328.8" y2="237" stroke="#c42e52" stroke-width="1.0" stroke-linecap="butt"/>
<line x1="327.3" y1="201.3" x2="330.3" y2="201.3" stroke="#c42e52" stroke-width="1.0" stroke-linecap="butt"/>
<line x1="327.3" y1="237" x2="330.3" y2="237" stroke="#c42e52" stroke-width="1.0" stroke-linecap="butt"/>
<line x1="293.9" y1="202.9" x2="296.9" y2="202.9" stroke="#c42e52" stroke-width="1.0" stroke-linecap="butt"/>
<line x1="293.9" y1="223.2" x2="296.9" y2="223.2" stroke="#c42e52" stroke-width="1.0" stroke-linecap="butt"/>
<line x1="293.9" y1="229.7" x2="296.9" y2="229.7" stroke="#c42e52" stroke-width="1.0" stroke-linecap="butt"/>
<line x1="293.9" y1="233.3" x2="296.9" y2="233.3" stroke="#c42e52" stroke-width="1.0" stroke-linecap="butt"/>
<line x1="293.9" y1="248.1" x2="296.9" y2="248.1" stroke="#1f4e7a" stroke-width="1.0" stroke-linecap="butt"/>
<line x1="293.9" y1="262" x2="296.9" y2="262" stroke="#1f4e7a" stroke-width="1.0" stroke-linecap="butt"/>
<line x1="327.3" y1="210.7" x2="330.3" y2="210.7" stroke="#c42e52" stroke-width="1.0" stroke-linecap="butt"/>
<line x1="327.3" y1="249.4" x2="330.3" y2="249.4" stroke="#3aaa35" stroke-width="1.0" stroke-linecap="butt"/>
<polyline points="262.00,266.20 295.40,247.60 328.80,237.30" fill="none" stroke="#2a5a8c" stroke-width="1.3" stroke-dasharray="6,3.5" stroke-linejoin="miter"/>
<polyline points="262.00,260.60 295.40,232.00 328.80,225.70" fill="none" stroke="#4fa84a" stroke-width="1.1" stroke-dasharray="1.8,1.6" stroke-linejoin="miter"/>
<polyline points="262.00,227.20 295.40,219.70 328.80,219.70" fill="none" stroke="#c42e52" stroke-width="1.4" stroke-linejoin="miter"/>
<polyline points="254.70,227.10 252.30,227.10 252.30,268.20 254.70,268.20" fill="none" stroke="#222" stroke-width="1.1" stroke-linejoin="miter"/>
<polyline points="259.30,227.10 257.30,227.10 257.30,260.70 262.20,260.70" fill="none" stroke="#1d3a3a" stroke-width="1.1" stroke-linejoin="miter"/>
<circle cx="248.90" cy="216" r="0.95" fill="#2a2a2a"/>
<circle cx="251.30" cy="216" r="0.95" fill="#2a2a2a"/>
<circle cx="253.70" cy="216" r="0.95" fill="#2a2a2a"/>
<circle cx="257.30" cy="222.3" r="0.95" fill="#2a2a2a"/>
<text x="248" y="188.3" font-size="8.6">shRNA</text>
<line x1="247.8" y1="192.2" x2="259.5" y2="192.2" stroke="#c42e52" stroke-width="1.5" stroke-linecap="butt"/>
<line x1="247.8" y1="200.4" x2="259.5" y2="200.4" stroke="#4fa84a" stroke-width="1.1" stroke-dasharray="1.8,1.6" stroke-linecap="butt"/>
<line x1="247.8" y1="209.2" x2="259.5" y2="209.2" stroke="#2a5a8c" stroke-width="1.3" stroke-dasharray="5,3.5" stroke-linecap="butt"/>
<text x="263.8" y="194.5" font-size="6.8" font-style="italic" textLength="30.9" lengthAdjust="spacingAndGlyphs">Luciferase</text>
<text x="263.8" y="202.7" font-size="6.9" textLength="26" lengthAdjust="spacingAndGlyphs"><tspan font-style="italic">Ccnd1</tspan>-1</text>
<text x="263.8" y="211.5" font-size="6.9" textLength="26" lengthAdjust="spacingAndGlyphs"><tspan font-style="italic">Ccnd1</tspan>-2</text>
<text x="373" y="178" font-size="12" font-weight="bold" fill="#000">F</text>
<text x="431.9" y="177" font-size="10">EVI1-AML</text>
<line x1="404.7" y1="185.2" x2="404.7" y2="281.2" stroke="#1a1a1a" stroke-width="1.35" stroke-linecap="butt"/>
<line x1="400.9" y1="189.40000000000003" x2="404.7" y2="189.40000000000003" stroke="#1a1a1a" stroke-width="1.1" stroke-linecap="butt"/>
<text x="397.6" y="192.45000000000005" font-size="8.5" text-anchor="end">1.0</text>
<line x1="400.9" y1="207.04000000000002" x2="404.7" y2="207.04000000000002" stroke="#1a1a1a" stroke-width="1.1" stroke-linecap="butt"/>
<text x="397.6" y="210.09000000000003" font-size="8.5" text-anchor="end">0.8</text>
<line x1="400.9" y1="224.68" x2="404.7" y2="224.68" stroke="#1a1a1a" stroke-width="1.1" stroke-linecap="butt"/>
<text x="397.6" y="227.73000000000002" font-size="8.5" text-anchor="end">0.6</text>
<line x1="400.9" y1="242.32000000000002" x2="404.7" y2="242.32000000000002" stroke="#1a1a1a" stroke-width="1.1" stroke-linecap="butt"/>
<text x="397.6" y="245.37000000000003" font-size="8.5" text-anchor="end">0.4</text>
<line x1="400.9" y1="259.96000000000004" x2="404.7" y2="259.96000000000004" stroke="#1a1a1a" stroke-width="1.1" stroke-linecap="butt"/>
<text x="397.6" y="263.01000000000005" font-size="8.5" text-anchor="end">0.2</text>
<line x1="400.9" y1="277.6" x2="404.7" y2="277.6" stroke="#1a1a1a" stroke-width="1.1" stroke-linecap="butt"/>
<text x="397.6" y="280.65000000000003" font-size="8.5" text-anchor="end">0.0</text>
<line x1="404.7" y1="281.2" x2="519" y2="281.2" stroke="#1a1a1a" stroke-width="1.4" stroke-linecap="butt"/>
<line x1="404.7" y1="281.2" x2="404.7" y2="284.2" stroke="#1a1a1a" stroke-width="1.1" stroke-linecap="butt"/>
<line x1="435.77" y1="281.2" x2="435.77" y2="284.2" stroke="#1a1a1a" stroke-width="1.1" stroke-linecap="butt"/>
<line x1="466.84" y1="281.2" x2="466.84" y2="284.2" stroke="#1a1a1a" stroke-width="1.1" stroke-linecap="butt"/>
<line x1="497.90999999999997" y1="281.2" x2="497.90999999999997" y2="284.2" stroke="#1a1a1a" stroke-width="1.1" stroke-linecap="butt"/>
<text x="404.7" y="296.4" font-size="8.7" text-anchor="middle">0</text>
<text x="435.77" y="296.4" font-size="8.7" text-anchor="middle">100</text>
<text x="466.84" y="296.4" font-size="8.7" text-anchor="middle">200</text>
<text x="497.90999999999997" y="296.4" font-size="8.7" text-anchor="middle">300</text>
<text x="446.8" y="310.4" font-size="9.6" class="at" textLength="14.7" lengthAdjust="spacingAndGlyphs">Days</text>
<text transform="translate(378.3,234) rotate(-90)" font-size="9.5" class="at" text-anchor="middle" textLength="35.3" lengthAdjust="spacingAndGlyphs">Probability</text>
<polyline points="404.70,189.40 434.60,189.40 434.60,200.43 439.60,200.43 439.60,211.45 449.90,211.45 449.90,222.48 460.70,222.48 460.70,244.53 462.70,244.53 462.70,255.55 505.60,255.55 505.60,277.60" fill="none" stroke="#34588a" stroke-width="1.3" stroke-dasharray="10,4.5" stroke-linejoin="miter"/>
<polyline points="404.70,189.40 431.80,189.40 431.80,222.48 436.30,222.48 436.30,233.50 456.00,233.50 456.00,244.53 499.00,244.53" fill="none" stroke="#6aaa5a" stroke-width="1.2" stroke-dasharray="3,4.5" stroke-linejoin="miter"/>
<polyline points="404.70,189.40 419.80,189.40 419.80,200.43 424.00,200.43 424.00,233.50 430.80,233.50 430.80,244.53 434.60,244.53 434.60,266.58 437.30,266.58 437.30,277.60" fill="none" stroke="#cc2a48" stroke-width="1.3" stroke-linejoin="miter"/>
<line x1="404.7" y1="189.40000000000003" x2="431.8" y2="189.40000000000003" stroke="#2c3548" stroke-width="1.3" stroke-linecap="butt"/>
<circle cx="447.30" cy="260.3" r="0.95" fill="#2a2a2a"/>
<circle cx="449.90" cy="260.3" r="0.95" fill="#2a2a2a"/>
<circle cx="452.50" cy="260.3" r="0.95" fill="#2a2a2a"/>
<text x="475.1" y="189.2" font-size="8.6">shRNA</text>
<line x1="454.9" y1="197.2" x2="471" y2="197.2" stroke="#cc2a48" stroke-width="1.4" stroke-linecap="butt"/>
<line x1="454.9" y1="207.7" x2="471" y2="207.7" stroke="#6aaa5a" stroke-width="1.2" stroke-dasharray="2.6,3" stroke-linecap="butt"/>
<line x1="454.9" y1="217.1" x2="471" y2="217.1" stroke="#34588a" stroke-width="1.3" stroke-dasharray="10.5,3.5" stroke-linecap="butt"/>
<text x="475.1" y="199.6" font-size="6.9" font-style="italic" textLength="31.1" lengthAdjust="spacingAndGlyphs">Luciferase</text>
<text x="475.1" y="210.2" font-size="7" textLength="26.3" lengthAdjust="spacingAndGlyphs"><tspan font-style="italic">Ccnd1</tspan>-1</text>
<text x="475.1" y="219.8" font-size="7" textLength="26.3" lengthAdjust="spacingAndGlyphs"><tspan font-style="italic">Ccnd1</tspan>-2</text>
<text x="1.6" y="341.6" font-size="12" font-weight="bold" fill="#000">G</text>
<text x="38.1" y="339.6" font-size="10" textLength="92.3" lengthAdjust="spacingAndGlyphs">KMT2A-MLLT1-AML</text>
<line x1="34.4" y1="345.7" x2="34.4" y2="429.3" stroke="#1a1a1a" stroke-width="1.35" stroke-linecap="butt"/>
<line x1="30.599999999999998" y1="348.6" x2="34.4" y2="348.6" stroke="#1a1a1a" stroke-width="1.1" stroke-linecap="butt"/>
<text x="28.1" y="351.65000000000003" font-size="8.7" text-anchor="end">1.0</text>
<line x1="30.599999999999998" y1="364.08" x2="34.4" y2="364.08" stroke="#1a1a1a" stroke-width="1.1" stroke-linecap="butt"/>
<text x="28.1" y="367.13" font-size="8.7" text-anchor="end">0.8</text>
<line x1="30.599999999999998" y1="379.56" x2="34.4" y2="379.56" stroke="#1a1a1a" stroke-width="1.1" stroke-linecap="butt"/>
<text x="28.1" y="382.61" font-size="8.7" text-anchor="end">0.6</text>
<line x1="30.599999999999998" y1="395.04" x2="34.4" y2="395.04" stroke="#1a1a1a" stroke-width="1.1" stroke-linecap="butt"/>
<text x="28.1" y="398.09000000000003" font-size="8.7" text-anchor="end">0.4</text>
<line x1="30.599999999999998" y1="410.52" x2="34.4" y2="410.52" stroke="#1a1a1a" stroke-width="1.1" stroke-linecap="butt"/>
<text x="28.1" y="413.57" font-size="8.7" text-anchor="end">0.2</text>
<line x1="30.599999999999998" y1="426.0" x2="34.4" y2="426.0" stroke="#1a1a1a" stroke-width="1.1" stroke-linecap="butt"/>
<text x="28.1" y="429.05" font-size="8.7" text-anchor="end">0.0</text>
<line x1="34.4" y1="429.3" x2="137" y2="429.3" stroke="#1a1a1a" stroke-width="1.4" stroke-linecap="butt"/>
<line x1="34.2" y1="429.3" x2="34.2" y2="432.3" stroke="#1a1a1a" stroke-width="1.1" stroke-linecap="butt"/>
<line x1="54.0" y1="429.3" x2="54.0" y2="432.3" stroke="#1a1a1a" stroke-width="1.1" stroke-linecap="butt"/>
<line x1="73.80000000000001" y1="429.3" x2="73.80000000000001" y2="432.3" stroke="#1a1a1a" stroke-width="1.1" stroke-linecap="butt"/>
<line x1="93.6" y1="429.3" x2="93.6" y2="432.3" stroke="#1a1a1a" stroke-width="1.1" stroke-linecap="butt"/>
<line x1="113.4" y1="429.3" x2="113.4" y2="432.3" stroke="#1a1a1a" stroke-width="1.1" stroke-linecap="butt"/>
<line x1="133.2" y1="429.3" x2="133.2" y2="432.3" stroke="#1a1a1a" stroke-width="1.1" stroke-linecap="butt"/>
<text x="34.2" y="444.3" font-size="8.7" text-anchor="middle">0</text>
<text x="54.0" y="444.3" font-size="8.7" text-anchor="middle">10</text>
<text x="73.80000000000001" y="444.3" font-size="8.7" text-anchor="middle">20</text>
<text x="93.6" y="444.3" font-size="8.7" text-anchor="middle">30</text>
<text x="113.4" y="444.3" font-size="8.7" text-anchor="middle">40</text>
<text x="133.2" y="444.3" font-size="8.7" text-anchor="middle">50</text>
<text x="77.7" y="457.6" font-size="10" class="at" textLength="15.9" lengthAdjust="spacingAndGlyphs">Days</text>
<text transform="translate(9.2,384.7) rotate(-90)" font-size="9.6" class="at" text-anchor="middle" textLength="37.4" lengthAdjust="spacingAndGlyphs">Probability</text>
<polyline points="34.40,348.60 87.50,348.60 87.50,358.27 90.30,358.27 90.30,396.98 105.40,396.98 105.40,416.32 132.40,416.32 132.40,426.00" fill="none" stroke="#2f4f6f" stroke-width="1.2" stroke-dasharray="3.5,2.5" stroke-linejoin="miter"/>
<polyline points="34.40,348.60 84.00,348.60 84.00,367.95 85.10,367.95 85.10,377.62 88.00,377.62 88.00,406.65 95.80,406.65 95.80,416.32 102.40,416.32 102.40,426.00" fill="none" stroke="#cc2a48" stroke-width="1.3" stroke-linejoin="miter"/>
<circle cx="121.80" cy="395.3" r="0.95" fill="#2a2a2a"/>
<text x="112.5" y="353.8" font-size="8.6">shRNA</text>
<line x1="94.7" y1="362.7" x2="108.7" y2="362.7" stroke="#cc2a48" stroke-width="1.4" stroke-linecap="butt"/>
<line x1="94.7" y1="372.1" x2="108.7" y2="372.1" stroke="#2f4f6f" stroke-width="1.2" stroke-dasharray="1.2,2.4,3,2.4,3,2.4" stroke-linecap="butt"/>
<text x="112.5" y="364.5" font-size="6.9" font-style="italic" textLength="31" lengthAdjust="spacingAndGlyphs">Luciferase</text>
<text x="112.5" y="374.8" font-size="7" textLength="27.4" lengthAdjust="spacingAndGlyphs"><tspan font-style="italic">Ccnd1</tspan>-2</text>
</svg></body></html>
